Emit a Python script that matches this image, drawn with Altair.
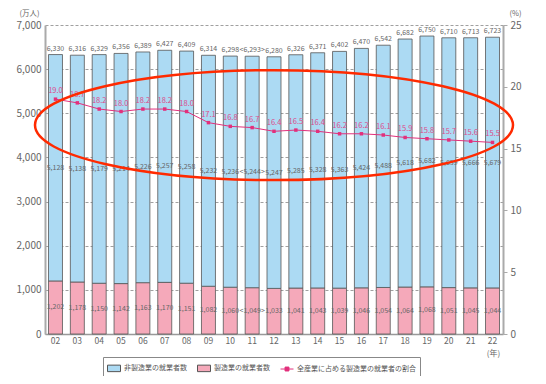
import altair as alt
import pandas as pd

YEARS = ["02", "03", "04", "05", "06", "07", "08", "09", "10", "11", "12",
         "13", "14", "15", "16", "17", "18", "19", "20", "21", "22"]
TOTAL = [6330, 6316, 6329, 6356, 6389, 6427, 6409, 6314, 6298, 6293, 6280,
         6326, 6371, 6402, 6470, 6542, 6682, 6750, 6710, 6713, 6723]
NONMFG = [5128, 5138, 5179, 5214, 5226, 5257, 5258, 5232, 5236, 5244, 5247,
          5285, 5328, 5363, 5424, 5488, 5618, 5682, 5659, 5666, 5679]
MFG = [1202, 1178, 1150, 1142, 1163, 1170, 1151, 1082, 1060, 1049, 1033,
       1041, 1043, 1039, 1046, 1054, 1064, 1068, 1051, 1045, 1044]
SHARE = [19.0, 18.7, 18.2, 18.0, 18.2, 18.2, 18.0, 17.1, 16.8, 16.7, 16.4,
         16.5, 16.4, 16.2, 16.2, 16.1, 15.9, 15.8, 15.7, 15.6, 15.5]
ESTIMATED_YEAR = "11"
SERIES = ["非製造業の就業者数", "製造業の就業者数", "全産業に占める製造業の就業者の割合"]
COLORS = ["#acdaf3", "#f5a9ba", "#e2307c"]
ELLIPSE_CENTER = {"year": "12", "share": 16.9}

FONT = "Noto Sans CJK JP"


def fmt(v, y):
    s = f"{v:,}"
    return f"<{s}>" if y == ESTIMATED_YEAR else s


rows = []
for i, y in enumerate(YEARS):
    rows.append({"year": y, "series": SERIES[1], "value": MFG[i], "ord": 0,
                 "mid": MFG[i] / 2, "label": fmt(MFG[i], y)})
    rows.append({"year": y, "series": SERIES[0], "value": NONMFG[i], "ord": 1,
                 "mid": MFG[i] + NONMFG[i] / 2, "label": fmt(NONMFG[i], y)})
bars_df = pd.DataFrame(rows)
tot_df = pd.DataFrame({"year": YEARS, "total": TOTAL,
                       "label": [fmt(t, y) for t, y in zip(TOTAL, YEARS)]})
share_df = pd.DataFrame({"year": YEARS, "share": SHARE,
                         "label": [f"{s:.1f}" for s in SHARE]})
ell_df = pd.DataFrame([ELLIPSE_CENTER])

x_scale = alt.Scale(domain=YEARS, paddingInner=0.36, paddingOuter=0.16)
x_axis = alt.Axis(labelAngle=0, ticks=False, domainColor="#999", domainWidth=1.5,
                  labelFontSize=8.5, labelColor="#666", labelPadding=2, grid=False,
                  title="(年)", titleX=448, titleY=19, titleAngle=0,
                  titleAlign="center", titleBaseline="middle", titleFontSize=8,
                  titleFontWeight="normal", titleColor="#666")
X = alt.X("year:N", scale=x_scale, axis=x_axis, sort=YEARS)

yl_scale = alt.Scale(domain=[0, 7000], nice=False)
yl_axis = alt.Axis(values=list(range(0, 7001, 1000)), format=",d", ticks=False,
                   domainColor="#aaa", domainWidth=2, gridDash=[3, 2],
                   gridColor="#888", gridWidth=0.8, labelFontSize=10,
                   labelColor="#666", labelPadding=4,
                   title="(万人)", titleX=-16, titleY=-12, titleAngle=0,
                   titleAlign="center", titleBaseline="middle", titleFontSize=7.5,
                   titleFontWeight="normal", titleColor="#666")

yr_scale = alt.Scale(domain=[0, 25], nice=False)
yr_axis = alt.Axis(orient="right", values=[0, 5, 10, 15, 20, 25], tickSize=4,
                   tickColor="#aaa", domainColor="#aaa", domainWidth=2,
                   labelFontSize=10, labelColor="#666", labelPadding=3, grid=False,
                   title="(%)", titleX=12, titleY=-12, titleAngle=0,
                   titleAlign="center", titleBaseline="middle", titleFontSize=7.5,
                   titleFontWeight="normal", titleColor="#666")

RECT = "M-1,-0.5H1V0.5H-1Z"
LINESYM = "M-1,0H1M-0.3,-0.3H0.3V0.3H-0.3Z"
legend = alt.Legend(
    title=None, orient="none", legendX=58, legendY=332, direction="horizontal",
    columns=3, columnPadding=8, strokeColor="#888", padding=4, fillColor="white",
    labelFontSize=7, labelColor="#555", labelFont=FONT, symbolSize=169,
    symbolType=alt.ExprRef(expr=f"datum.value == '{SERIES[2]}' ? '{LINESYM}' : '{RECT}'"),
    symbolStrokeColor=alt.ExprRef(expr=f"datum.value == '{SERIES[2]}' ? '{COLORS[2]}' : '#555'"),
    symbolStrokeWidth=1, symbolOpacity=1, labelOffset=3, labelLimit=200)

bars = alt.Chart(bars_df).mark_bar(stroke="#555", strokeWidth=0.8).encode(
    x=X,
    y=alt.Y("value:Q", stack="zero", scale=yl_scale, axis=yl_axis),
    color=alt.Color("series:N", scale=alt.Scale(domain=SERIES, range=COLORS),
                    legend=legend),
    order=alt.Order("ord:Q"),
)
in_labels = alt.Chart(bars_df).mark_text(fontSize=7, color="#666", font=FONT,
                                         baseline="middle").encode(
    x=X, y=alt.Y("mid:Q", scale=yl_scale, axis=yl_axis), text="label:N")
tot_labels = alt.Chart(tot_df).mark_text(fontSize=7, color="#666", font=FONT,
                                         baseline="middle", dy=-6).encode(
    x=X, y=alt.Y("total:Q", scale=yl_scale, axis=yl_axis), text="label:N")
left = alt.layer(bars, in_labels, tot_labels)

YR = alt.Y("share:Q", scale=yr_scale, axis=yr_axis)
line = alt.Chart(share_df).mark_line(
    color=COLORS[2], strokeWidth=1,
    point=alt.OverlayMarkDef(shape="square", size=12, filled=True,
                             color=COLORS[2], opacity=1)).encode(x=X, y=YR)
share_labels = alt.Chart(share_df).mark_text(fontSize=7.5, color="#dc4b8b", font=FONT,
                                             baseline="middle", dy=-8).encode(
    x=X, y=YR, text="label:N")
ELLIPSE = ("M-1,0C-1,-0.127,-0.552,-0.23,0,-0.23C0.552,-0.23,1,-0.127,1,0"
           "C1,0.127,0.552,0.23,0,0.23C-0.552,0.23,-1,0.127,-1,0Z")
ellipse = alt.Chart(ell_df).mark_point(shape=ELLIPSE, size=478 * 478, filled=False,
                                       color="#ff2a00", strokeWidth=2.5,
                                       opacity=1).encode(x=X, y=YR)
right = alt.layer(line, share_labels, ellipse)

chart = alt.layer(left, right).resolve_scale(y="independent").properties(
    width=458, height=309,
    autosize=alt.AutoSizeParams(type="none"),
    padding={"left": 37, "top": 17, "right": 35, "bottom": 42},
).configure(font=FONT).configure_view(strokeWidth=0)

chart.save("out.html", embed_options={"renderer": "svg", "actions": False})
